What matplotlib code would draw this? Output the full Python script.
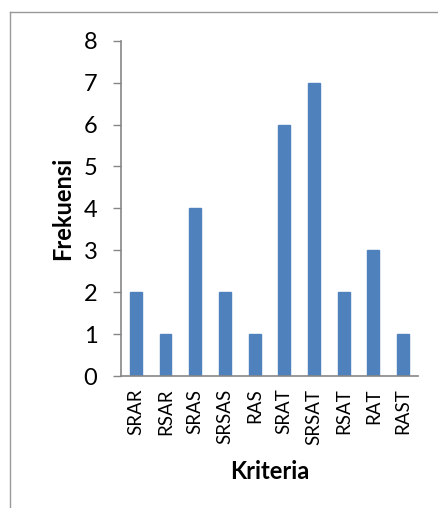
import numpy as np
import matplotlib
matplotlib.use('Agg')
import matplotlib.pyplot as plt
from matplotlib.lines import Line2D

plt.rcParams['font.family'] = ['Lato', 'DejaVu Sans']

# Données
kriteria = ['SRAR', 'RSAR', 'SRAS', 'SRSAS', 'RAS', 'SRAT', 'SRSAT', 'RSAT', 'RAT', 'RAST']
frekuensi = [2, 1, 4, 2, 1, 6, 7, 2, 3, 1]
yticks = [0, 1, 2, 3, 4, 5, 6, 7, 8]

fig = plt.figure(figsize=(4.39, 5.08), dpi=100)
ax = fig.add_axes([0.2756, 0.2598, 0.6764, 0.66])

x = np.arange(len(kriteria))
ax.bar(x, frekuensi, width=0.4, color='#4F81BD', edgecolor='#4F81BD')

ax.set_xlim(-0.5, len(kriteria) - 0.5)
ax.set_ylim(0, 8)
ax.set_yticks(yticks)
ax.set_xticks(x)
ax.set_xticklabels(kriteria, rotation=90, fontsize=13.5)
ax.tick_params(axis='y', labelsize=17, direction='out', length=6, width=1,
               color='#868686', pad=11)
ax.tick_params(axis='x', length=0, pad=9)

for s in ['top', 'right']:
    ax.spines[s].set_visible(False)
for s in ['left', 'bottom']:
    ax.spines[s].set_color('#868686')
    ax.spines[s].set_linewidth(1.2)

ax.set_ylabel('Frekuensi', fontsize=17, fontweight='bold', labelpad=7)
ax.set_xlabel('Kriteria', fontsize=17, fontweight='bold', labelpad=11)

# Cadre du graphique
fig.add_artist(Line2D([10/439, 10/439], [0, 1 - 12/508], color='#999999', lw=1.0))
fig.add_artist(Line2D([10/439, 1], [1 - 12/508, 1 - 12/508], color='#999999', lw=1.0))

fig.savefig('out.png', dpi=100)
